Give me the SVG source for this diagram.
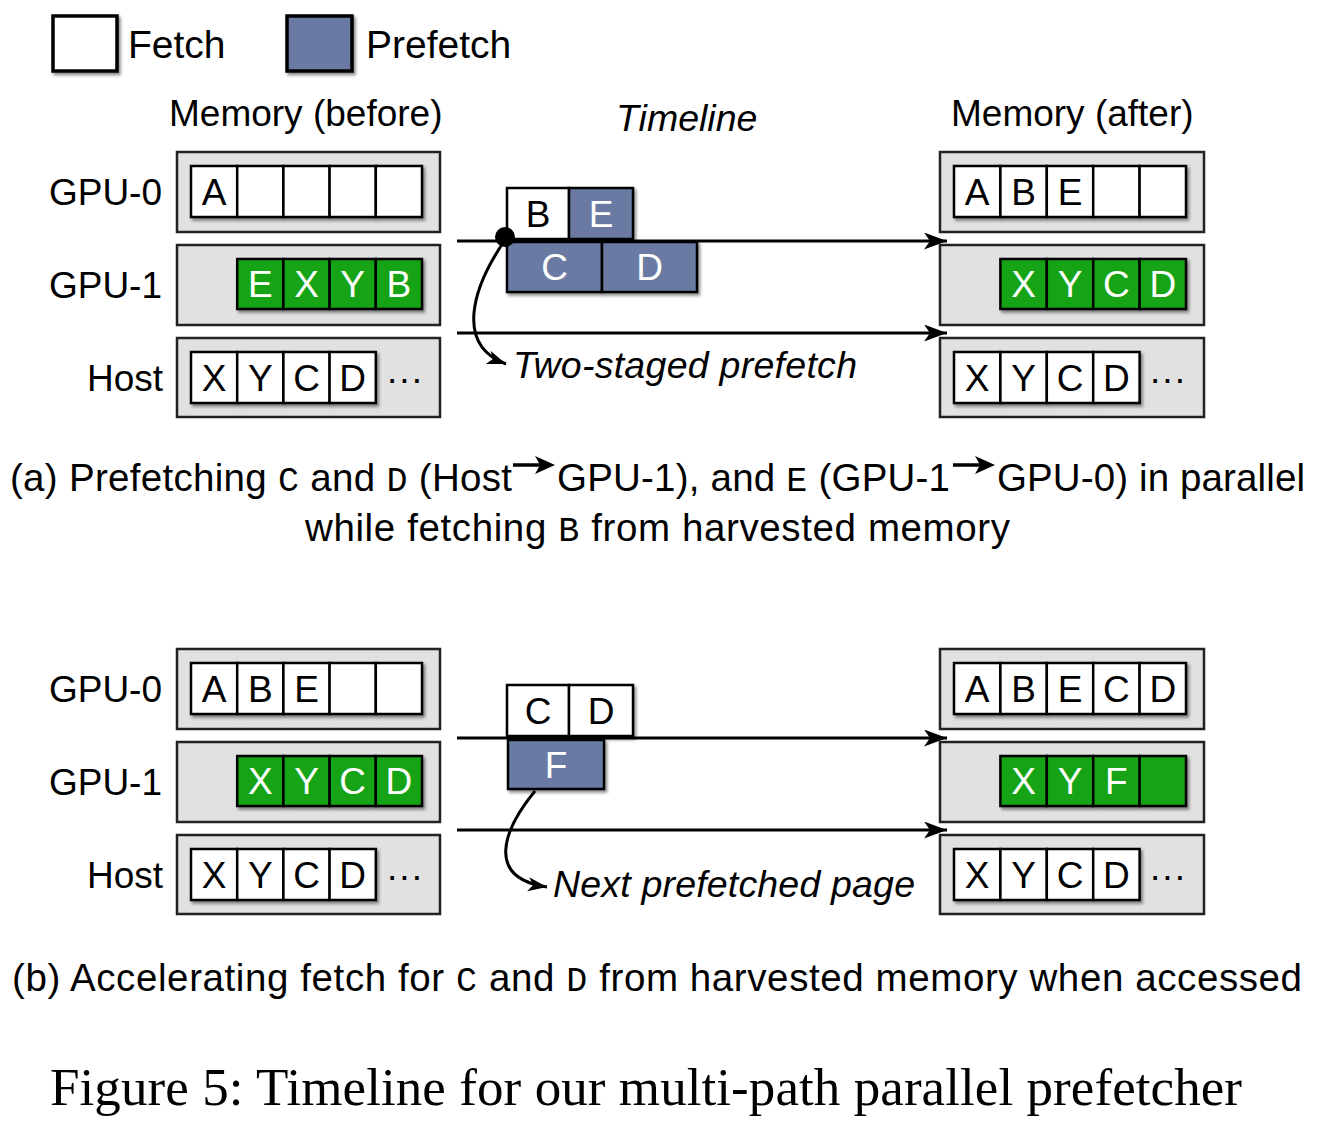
<svg xmlns="http://www.w3.org/2000/svg" width="1319" height="1126" viewBox="0 0 1319 1126">
<style>
text{font-family:"Liberation Sans",Arial,Helvetica,sans-serif;fill:#000}
.lbl{font-size:37px}
.leg{font-size:39px}
.it{font-size:37.5px;font-style:italic}
.ct{font-size:37px;text-anchor:middle}
.wt{fill:#fff}
.cap{font-size:38.5px}
.mono{font-family:"Liberation Mono","Courier New",monospace;font-size:35px}
.fig{font-family:"Liberation Serif","Times New Roman",serif;font-size:53px}
.outer{fill:#e1e1e1;stroke:#222;stroke-width:2.5}
.cell{fill:#fff;stroke:#000;stroke-width:2.5}
.pf{fill:#6b7aa3;stroke:#000;stroke-width:2.5}
.gr{fill:#16a316;stroke:#000;stroke-width:2.5}
.tl{stroke:#000;stroke-width:3;fill:none}
.cv{stroke:#000;stroke-width:3;fill:none}
</style>
<defs>
<filter id="sh" x="-10%" y="-10%" width="130%" height="140%">
<feDropShadow dx="2" dy="2.5" stdDeviation="1.5" flood-color="#000" flood-opacity="0.45"/>
</filter>
<marker id="ah" markerUnits="userSpaceOnUse" markerWidth="24" markerHeight="18" refX="23" refY="8.5" orient="auto">
<path d="M0,0 L23,8.5 L0,17 L6,8.5 z" fill="#000"/>
</marker>
<marker id="ah2" markerUnits="userSpaceOnUse" markerWidth="20" markerHeight="16" refX="19" refY="7" orient="auto">
<path d="M0,0 L19,7 L0,14 L5,7 z" fill="#000"/>
</marker>
</defs>

<g id="legend">
<rect x="53" y="16" width="64" height="55" fill="#fff" stroke="#000" stroke-width="3.5" filter="url(#sh)"/>
<text class="leg" x="128" y="58">Fetch</text>
<rect x="287" y="16" width="65" height="55" fill="#6b7aa3" stroke="#000" stroke-width="3.5" filter="url(#sh)"/>
<text class="leg" x="366" y="58">Prefetch</text>
</g>

<g id="headers">
<text class="lbl" x="169" y="126">Memory (before)</text>
<text class="it" x="616" y="131">Timeline</text>
<text class="lbl" x="951" y="126">Memory (after)</text>
</g>

<!-- ===== Part (a) ===== -->
<g id="a-labels">
<text class="lbl" x="162" y="205" text-anchor="end">GPU-0</text>
<text class="lbl" x="162" y="298" text-anchor="end">GPU-1</text>
<text class="lbl" x="163" y="391" text-anchor="end">Host</text>
</g>

<g id="a-before-gpu0">
<rect class="outer" x="177" y="152" width="263" height="80"/>
<g filter="url(#sh)">
<rect class="cell" x="191" y="166" width="46.2" height="51"/>
<rect class="cell" x="237.2" y="166" width="46.2" height="51"/>
<rect class="cell" x="283.4" y="166" width="46.2" height="51"/>
<rect class="cell" x="329.6" y="166" width="46.2" height="51"/>
<rect class="cell" x="375.8" y="166" width="46.2" height="51"/>
</g>
<text class="ct" x="214.1" y="205">A</text>
</g>

<g id="a-before-gpu1">
<rect class="outer" x="177" y="245" width="263" height="80"/>
<g filter="url(#sh)">
<rect class="gr" x="237.2" y="259" width="46.2" height="50"/>
<rect class="gr" x="283.4" y="259" width="46.2" height="50"/>
<rect class="gr" x="329.6" y="259" width="46.2" height="50"/>
<rect class="gr" x="375.8" y="259" width="46.2" height="50"/>
</g>
<text class="ct wt" x="260.3" y="297">E</text>
<text class="ct wt" x="306.5" y="297">X</text>
<text class="ct wt" x="352.7" y="297">Y</text>
<text class="ct wt" x="398.9" y="297">B</text>
</g>

<g id="a-before-host">
<rect class="outer" x="177" y="338" width="263" height="79"/>
<g filter="url(#sh)">
<rect class="cell" x="191" y="352" width="46.2" height="51"/>
<rect class="cell" x="237.2" y="352" width="46.2" height="51"/>
<rect class="cell" x="283.4" y="352" width="46.2" height="51"/>
<rect class="cell" x="329.6" y="352" width="46.2" height="51"/>
</g>
<text class="ct" x="214.1" y="391">X</text>
<text class="ct" x="260.3" y="391">Y</text>
<text class="ct" x="306.5" y="391">C</text>
<text class="ct" x="352.7" y="391">D</text>
<text class="lbl" x="386" y="391">···</text>
</g>

<g id="a-after-gpu0">
<rect class="outer" x="940" y="152" width="264" height="80"/>
<g filter="url(#sh)">
<rect class="cell" x="954" y="166" width="46.4" height="51"/>
<rect class="cell" x="1000.4" y="166" width="46.4" height="51"/>
<rect class="cell" x="1046.8" y="166" width="46.4" height="51"/>
<rect class="cell" x="1093.2" y="166" width="46.4" height="51"/>
<rect class="cell" x="1139.6" y="166" width="46.4" height="51"/>
</g>
<text class="ct" x="977.2" y="205">A</text>
<text class="ct" x="1023.6" y="205">B</text>
<text class="ct" x="1070" y="205">E</text>
</g>

<g id="a-after-gpu1">
<rect class="outer" x="940" y="245" width="264" height="80"/>
<g filter="url(#sh)">
<rect class="gr" x="1000.4" y="259" width="46.4" height="50"/>
<rect class="gr" x="1046.8" y="259" width="46.4" height="50"/>
<rect class="gr" x="1093.2" y="259" width="46.4" height="50"/>
<rect class="gr" x="1139.6" y="259" width="46.4" height="50"/>
</g>
<text class="ct wt" x="1023.6" y="297">X</text>
<text class="ct wt" x="1070" y="297">Y</text>
<text class="ct wt" x="1116.4" y="297">C</text>
<text class="ct wt" x="1162.8" y="297">D</text>
</g>

<g id="a-after-host">
<rect class="outer" x="940" y="338" width="264" height="79"/>
<g filter="url(#sh)">
<rect class="cell" x="954" y="352" width="46.4" height="51"/>
<rect class="cell" x="1000.4" y="352" width="46.4" height="51"/>
<rect class="cell" x="1046.8" y="352" width="46.4" height="51"/>
<rect class="cell" x="1093.2" y="352" width="46.4" height="51"/>
</g>
<text class="ct" x="977.2" y="391">X</text>
<text class="ct" x="1023.6" y="391">Y</text>
<text class="ct" x="1070" y="391">C</text>
<text class="ct" x="1116.4" y="391">D</text>
<text class="lbl" x="1149" y="391">···</text>
</g>

<g id="a-timeline-boxes">
<g filter="url(#sh)">
<rect class="cell" x="507" y="188" width="62" height="51"/>
<rect class="pf" x="569" y="188" width="64" height="51"/>
<rect class="pf" x="507" y="242" width="95" height="50"/>
<rect class="pf" x="602" y="242" width="95" height="50"/>
</g>
<text class="ct" x="538" y="227">B</text>
<text class="ct wt" x="601" y="227">E</text>
<text class="ct wt" x="554.5" y="280">C</text>
<text class="ct wt" x="649.5" y="280">D</text>
</g>

<g id="a-connectors">
<line class="tl" x1="457" y1="241" x2="947" y2="241" marker-end="url(#ah)"/>
<line class="tl" x1="457" y1="333" x2="947" y2="333" marker-end="url(#ah)"/>
<circle cx="505" cy="237" r="10" fill="#000"/>
<path class="cv" d="M505,240 C472,288 455,345 506,364" marker-end="url(#ah2)"/>
</g>
<text class="it" x="513" y="378" textLength="344" lengthAdjust="spacing">Two-staged prefetch</text>

<g id="caption-a">
<text class="cap" x="10" y="491" textLength="502" lengthAdjust="spacing">(a) Prefetching <tspan class="mono">C</tspan> and <tspan class="mono">D</tspan> (Host</text>
<path d="M513,465 L542,465" stroke="#000" stroke-width="3.5"/>
<path d="M555,465 L535,456 L540,465 L535,474 z" fill="#000"/>
<text class="cap" x="557" y="491" textLength="393" lengthAdjust="spacing">GPU-1), and <tspan class="mono">E</tspan> (GPU-1</text>
<path d="M953,465 L982,465" stroke="#000" stroke-width="3.5"/>
<path d="M995,465 L975,456 L980,465 L975,474 z" fill="#000"/>
<text class="cap" x="997" y="491" textLength="308" lengthAdjust="spacing">GPU-0) in parallel</text>
<text class="cap" x="305" y="541" textLength="705" lengthAdjust="spacing">while fetching <tspan class="mono">B</tspan> from harvested memory</text>
</g>

<!-- ===== Part (b) ===== -->
<g id="b-labels">
<text class="lbl" x="162" y="702" text-anchor="end">GPU-0</text>
<text class="lbl" x="162" y="795" text-anchor="end">GPU-1</text>
<text class="lbl" x="163" y="888" text-anchor="end">Host</text>
</g>

<g id="b-before-gpu0">
<rect class="outer" x="177" y="649" width="263" height="80"/>
<g filter="url(#sh)">
<rect class="cell" x="191" y="663" width="46.2" height="51"/>
<rect class="cell" x="237.2" y="663" width="46.2" height="51"/>
<rect class="cell" x="283.4" y="663" width="46.2" height="51"/>
<rect class="cell" x="329.6" y="663" width="46.2" height="51"/>
<rect class="cell" x="375.8" y="663" width="46.2" height="51"/>
</g>
<text class="ct" x="214.1" y="702">A</text>
<text class="ct" x="260.3" y="702">B</text>
<text class="ct" x="306.5" y="702">E</text>
</g>

<g id="b-before-gpu1">
<rect class="outer" x="177" y="742" width="263" height="80"/>
<g filter="url(#sh)">
<rect class="gr" x="237.2" y="756" width="46.2" height="50"/>
<rect class="gr" x="283.4" y="756" width="46.2" height="50"/>
<rect class="gr" x="329.6" y="756" width="46.2" height="50"/>
<rect class="gr" x="375.8" y="756" width="46.2" height="50"/>
</g>
<text class="ct wt" x="260.3" y="794">X</text>
<text class="ct wt" x="306.5" y="794">Y</text>
<text class="ct wt" x="352.7" y="794">C</text>
<text class="ct wt" x="398.9" y="794">D</text>
</g>

<g id="b-before-host">
<rect class="outer" x="177" y="835" width="263" height="79"/>
<g filter="url(#sh)">
<rect class="cell" x="191" y="849" width="46.2" height="51"/>
<rect class="cell" x="237.2" y="849" width="46.2" height="51"/>
<rect class="cell" x="283.4" y="849" width="46.2" height="51"/>
<rect class="cell" x="329.6" y="849" width="46.2" height="51"/>
</g>
<text class="ct" x="214.1" y="888">X</text>
<text class="ct" x="260.3" y="888">Y</text>
<text class="ct" x="306.5" y="888">C</text>
<text class="ct" x="352.7" y="888">D</text>
<text class="lbl" x="386" y="888">···</text>
</g>

<g id="b-after-gpu0">
<rect class="outer" x="940" y="649" width="264" height="80"/>
<g filter="url(#sh)">
<rect class="cell" x="954" y="663" width="46.4" height="51"/>
<rect class="cell" x="1000.4" y="663" width="46.4" height="51"/>
<rect class="cell" x="1046.8" y="663" width="46.4" height="51"/>
<rect class="cell" x="1093.2" y="663" width="46.4" height="51"/>
<rect class="cell" x="1139.6" y="663" width="46.4" height="51"/>
</g>
<text class="ct" x="977.2" y="702">A</text>
<text class="ct" x="1023.6" y="702">B</text>
<text class="ct" x="1070" y="702">E</text>
<text class="ct" x="1116.4" y="702">C</text>
<text class="ct" x="1162.8" y="702">D</text>
</g>

<g id="b-after-gpu1">
<rect class="outer" x="940" y="742" width="264" height="80"/>
<g filter="url(#sh)">
<rect class="gr" x="1000.4" y="756" width="46.4" height="50"/>
<rect class="gr" x="1046.8" y="756" width="46.4" height="50"/>
<rect class="gr" x="1093.2" y="756" width="46.4" height="50"/>
<rect class="gr" x="1139.6" y="756" width="46.4" height="50"/>
</g>
<text class="ct wt" x="1023.6" y="794">X</text>
<text class="ct wt" x="1070" y="794">Y</text>
<text class="ct wt" x="1116.4" y="794">F</text>
</g>

<g id="b-after-host">
<rect class="outer" x="940" y="835" width="264" height="79"/>
<g filter="url(#sh)">
<rect class="cell" x="954" y="849" width="46.4" height="51"/>
<rect class="cell" x="1000.4" y="849" width="46.4" height="51"/>
<rect class="cell" x="1046.8" y="849" width="46.4" height="51"/>
<rect class="cell" x="1093.2" y="849" width="46.4" height="51"/>
</g>
<text class="ct" x="977.2" y="888">X</text>
<text class="ct" x="1023.6" y="888">Y</text>
<text class="ct" x="1070" y="888">C</text>
<text class="ct" x="1116.4" y="888">D</text>
<text class="lbl" x="1149" y="888">···</text>
</g>

<g id="b-timeline-boxes">
<g filter="url(#sh)">
<rect class="cell" x="507" y="685" width="62" height="51"/>
<rect class="cell" x="569" y="685" width="64" height="51"/>
<rect class="pf" x="508" y="740" width="96" height="49"/>
</g>
<text class="ct" x="538" y="724">C</text>
<text class="ct" x="601" y="724">D</text>
<text class="ct wt" x="556" y="778">F</text>
</g>

<g id="b-connectors">
<line class="tl" x1="457" y1="738" x2="947" y2="738" marker-end="url(#ah)"/>
<line class="tl" x1="457" y1="830" x2="947" y2="830" marker-end="url(#ah)"/>
<path class="cv" d="M535,791 C503,830 485,878 547,887" marker-end="url(#ah2)"/>
</g>
<text class="it" x="553" y="897" textLength="362" lengthAdjust="spacing">Next prefetched page</text>

<g id="caption-b">
<text class="cap" x="12" y="991" textLength="1290" lengthAdjust="spacing">(b) Accelerating fetch for <tspan class="mono">C</tspan> and <tspan class="mono">D</tspan> from harvested memory when accessed</text>
</g>

<text class="fig" x="50" y="1105" textLength="1192" lengthAdjust="spacing">Figure 5: Timeline for our multi-path parallel prefetcher</text>
</svg>
